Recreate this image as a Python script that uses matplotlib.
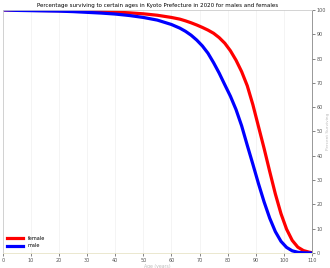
import matplotlib
matplotlib.use('Agg')
import matplotlib.pyplot as plt

# ages and percent surviving
male_age = [0, 5, 10, 15, 20, 25, 30, 35, 40, 45, 50, 55, 60, 63, 65, 67, 69,
            71, 73, 75, 77, 79, 81, 83, 85, 87, 89, 91, 93, 95, 97, 99, 101,
            103, 105, 107, 110]
male_pct = [100, 99.8, 99.7, 99.6, 99.5, 99.3, 99.0, 98.7, 98.3, 97.7, 96.9,
            95.8, 94.0, 92.5, 91.2, 89.6, 87.6, 85.2, 82.2, 78.3, 74.0, 69.2,
            64.5, 59.0, 52.3, 44.3, 36.5, 28.5, 21.0, 14.3, 8.8, 4.8, 2.3, 0.9,
            0.3, 0.08, 0]

female_age = [0, 10, 20, 30, 40, 45, 50, 55, 60, 63, 65, 67, 69, 71, 73, 75,
              77, 79, 81, 83, 85, 87, 89, 91, 93, 95, 97, 99, 101, 103, 105,
              107, 109, 110]
female_pct = [100, 99.8, 99.7, 99.5, 99.1, 98.8, 98.4, 97.8, 96.9, 96.2, 95.5,
              94.7, 93.8, 92.8, 91.7, 90.4, 88.6, 86.3, 83.2, 79.3, 74.6, 68.8,
              61.0, 52.0, 43.0, 33.5, 24.3, 16.2, 9.8, 5.2, 2.4, 1.0, 0.35, 0.15]

xticks = list(range(0, 111, 10))
yticks = list(range(0, 101, 10))

fig = plt.figure(figsize=(3.3, 2.68), dpi=100)
ax = fig.add_axes([0.009, 0.056, 0.936, 0.907])

ax.plot(female_age, female_pct, color='red', lw=2.3, label='female')
ax.plot(male_age, male_pct, color='blue', lw=2.3, label='male')

ax.set_xlim(0, 110)
ax.set_ylim(0, 100)
ax.set_xticks(xticks)
ax.set_yticks(yticks)
ax.yaxis.tick_right()
ax.yaxis.set_label_position('right')
ax.tick_params(labelsize=3.5, length=2, width=0.5, colors='#555555', pad=1.5)
ax.grid(True, axis='x', color='#f3f3f3', lw=0.6)

for s in ['left', 'top']:
    ax.spines[s].set_color('#cccccc')
ax.spines['bottom'].set_color('#e8e4c8')
ax.spines['right'].set_color('#888888')
for s in ax.spines.values():
    s.set_linewidth(0.6)

ax.set_xlabel('Age (years)', fontsize=3.3, color='#bbbbbb', labelpad=0.5)
ax.set_ylabel('Percent Surviving', fontsize=3.1, color='#bbbbbb', labelpad=0)
ax.set_title('Percentage surviving to certain ages in Kyoto Prefecture in 2020 for males and females',
             fontsize=4.0, pad=2)

ax.legend(loc='lower left', fontsize=3.6, frameon=False, handlelength=3.2)

fig.savefig('out.png', dpi=100)
